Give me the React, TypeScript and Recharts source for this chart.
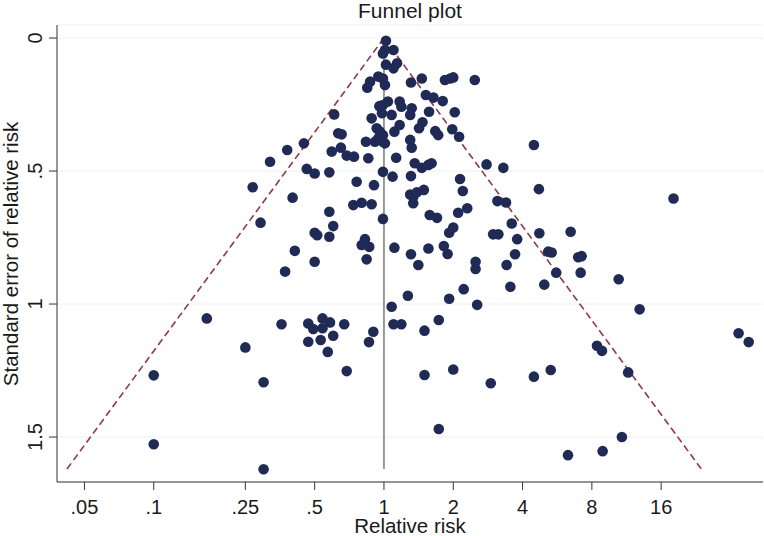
import { ScatterChart, Scatter, XAxis, YAxis, CartesianGrid, ReferenceLine } from 'recharts';

// [relative risk, standard error]
const studiesTop: [number, number][] = [
  [1.02, 0.01], [1.10, 0.045], [1.01, 0.045], [0.99, 0.058], [1.14, 0.095], [1.10, 0.114],
  [1.02, 0.10], [0.99, 0.152], [1.01, 0.177], [1.31, 0.167], [1.46, 0.152], [1.84, 0.158],
  [1.94, 0.152], [2.00, 0.148], [2.48, 0.158], [0.945, 0.145], [0.87, 0.164], [0.846, 0.187],
  [1.52, 0.214], [1.64, 0.224], [1.80, 0.237], [2.03, 0.279], [1.04, 0.239], [1.17, 0.239],
  [1.32, 0.264], [1.08, 0.289], [1.19, 0.258], [1.30, 0.289], [1.57, 0.277], [1.17, 0.327],
  [1.11, 0.352], [1.47, 0.317], [1.42, 0.339], [1.67, 0.35], [1.72, 0.365], [1.98, 0.343],
  [2.12, 0.371], [0.99, 0.365], [1.01, 0.396], [1.30, 0.383], [1.32, 0.412], [1.13, 0.45],
  [4.48, 0.402], [1.36, 0.471], [1.46, 0.488], [1.56, 0.477], [1.61, 0.471], [2.79, 0.475],
  [3.30, 0.488], [0.99, 0.252], [0.98, 0.283], [0.884, 0.302], [0.93, 0.339], [0.96, 0.352],
  [0.945, 0.377], [0.99, 0.39], [0.914, 0.39], [0.835, 0.39], [0.855, 0.452], [0.955, 0.256],
  [0.608, 0.287], [0.633, 0.358], [0.655, 0.362], [0.593, 0.427], [0.65, 0.412], [0.689, 0.442],
  [0.741, 0.446], [0.449, 0.396], [0.38, 0.421], [0.32, 0.465], [0.462, 0.492], [0.50, 0.509],
  [0.579, 0.505],
];

const studiesMiddle: [number, number][] = [
  [0.99, 0.503], [1.09, 0.521], [1.31, 0.519], [2.14, 0.53], [2.20, 0.575], [4.71, 0.568],
  [1.30, 0.588], [1.34, 0.597], [1.49, 0.571], [1.39, 0.58], [1.34, 0.621], [1.58, 0.665],
  [1.70, 0.676], [2.10, 0.657], [2.30, 0.64], [2.00, 0.712], [1.92, 0.732], [3.11, 0.613],
  [3.39, 0.618], [3.59, 0.697], [2.98, 0.738], [3.14, 0.738], [3.79, 0.756], [4.73, 0.734],
  [5.17, 0.803], [3.71, 0.813], [3.41, 0.853], [2.50, 0.841], [2.50, 0.868], [0.99, 0.68],
  [1.11, 0.788], [1.31, 0.813], [1.41, 0.853], [1.56, 0.791], [1.82, 0.782], [1.89, 0.812],
  [18.1, 0.603], [6.47, 0.728], [5.35, 0.806], [6.98, 0.824], [7.22, 0.82], [0.269, 0.561],
  [0.401, 0.60], [0.291, 0.694], [0.761, 0.54], [0.905, 0.553], [0.736, 0.628], [0.80, 0.619],
  [0.884, 0.625], [0.579, 0.653], [0.602, 0.707], [0.50, 0.732], [0.513, 0.741], [0.579, 0.747],
  [0.827, 0.756], [0.80, 0.778], [0.863, 0.785], [0.841, 0.832], [0.41, 0.80], [0.50, 0.841],
  [0.372, 0.878],
];

const studiesBottom: [number, number][] = [
  [1.08, 1.01], [1.27, 0.969], [1.92, 0.98], [2.22, 0.944], [2.54, 1.003], [3.54, 0.935],
  [4.97, 0.927], [5.60, 0.882], [7.15, 0.882], [10.46, 0.907], [12.9, 1.02], [8.42, 1.157],
  [8.85, 1.176], [11.5, 1.257], [34.7, 1.11], [38.4, 1.143], [10.8, 1.50], [8.91, 1.553],
  [6.30, 1.568], [1.10, 1.076], [1.19, 1.076], [1.50, 1.10], [1.73, 1.06], [1.50, 1.267],
  [2.00, 1.246], [2.91, 1.298], [4.48, 1.273], [5.30, 1.248], [1.73, 1.47], [0.17, 1.054],
  [0.25, 1.163], [0.359, 1.076], [0.10, 1.268], [0.30, 1.294], [0.10, 1.527], [0.30, 1.621],
  [0.469, 1.073], [0.541, 1.054], [0.583, 1.069], [0.493, 1.094], [0.541, 1.091], [0.672, 1.076],
  [0.469, 1.142], [0.531, 1.135], [0.602, 1.119], [0.570, 1.18], [0.689, 1.252], [0.899, 1.104],
  [0.861, 1.143],
];

// pseudo 95% limits: apex and the two bottom ends
const funnelApex = { rr: 1, se: 0 };
const funnelLeftEnd = { rr: 0.042, se: 1.62 };
const funnelRightEnd = { rr: 23.9, se: 1.62 };

const xTicks = [0.05, 0.1, 0.25, 0.5, 1, 2, 4, 8, 16];
const yTicks = [0, 0.5, 1, 1.5];

const font = '"Liberation Sans", Arial, sans-serif';
const navy = '#1f2a56';
const maroon = '#963640';

const studies = [...studiesTop, ...studiesMiddle, ...studiesBottom].map(([rr, se]) => ({ rr, se }));

// Stata style: drop the leading zero (".5", ".05")
const fmt = (v: number) => (v > 0 && v < 1 ? String(v).replace(/^0/, '') : String(v));

const XTick = ({ x, y, payload }: any) => (
  <text x={x} y={y + 22} textAnchor="middle" fontSize={20} fontFamily={font} fill="#1a1a1a">
    {fmt(payload.value)}
  </text>
);

const YTick = ({ x, y, payload }: any) => (
  <text
    x={x - 5}
    y={y}
    transform={`rotate(-90, ${x - 5}, ${y})`}
    textAnchor="middle"
    fontSize={20}
    fontFamily={font}
    fill="#1a1a1a"
  >
    {fmt(payload.value)}
  </text>
);

const Dot = ({ cx, cy }: any) => <circle cx={cx} cy={cy} r={5.3} fill={navy} />;

export default function App() {
  return (
    <div style={{ position: 'absolute', left: 0, top: 0, width: 764, height: 536, background: '#fff' }}>
      <ScatterChart width={764} height={536} margin={{ top: 25, right: 1, bottom: 0, left: 0 }}>
        <CartesianGrid vertical={false} stroke="#edf1f4" strokeWidth={1} />
        <XAxis
          dataKey="rr"
          type="number"
          scale="log"
          domain={[0.038, 44.3]}
          allowDataOverflow
          ticks={xTicks}
          interval={0}
          height={54}
          tickSize={8}
          tick={<XTick />}
          axisLine={{ stroke: '#333', strokeWidth: 1 }}
          tickLine={{ stroke: '#333' }}
        />
        <YAxis
          dataKey="se"
          type="number"
          domain={[-0.049, 1.669]}
          allowDataOverflow
          reversed
          ticks={yTicks}
          interval={0}
          width={57}
          tickSize={8}
          tick={<YTick />}
          axisLine={{ stroke: '#333', strokeWidth: 1 }}
          tickLine={{ stroke: '#333' }}
        />
        <Scatter data={studies} shape={<Dot />} isAnimationActive={false} />
        <ReferenceLine
          segment={[{ x: funnelApex.rr, y: funnelApex.se }, { x: funnelLeftEnd.rr, y: funnelLeftEnd.se }]}
          stroke={maroon}
          strokeWidth={1.6}
          strokeDasharray="7 4"
        />
        <ReferenceLine
          segment={[{ x: funnelApex.rr, y: funnelApex.se }, { x: funnelRightEnd.rr, y: funnelRightEnd.se }]}
          stroke={maroon}
          strokeWidth={1.6}
          strokeDasharray="7 4"
        />
        <ReferenceLine
          segment={[{ x: funnelApex.rr, y: funnelApex.se }, { x: funnelApex.rr, y: funnelLeftEnd.se }]}
          stroke="#7a7a7a"
          strokeWidth={1.5}
        />
      </ScatterChart>
      <svg width={764} height={536} style={{ position: 'absolute', left: 0, top: 0, pointerEvents: 'none' }}>
        <text x={410} y={18} textAnchor="middle" fontSize={21} fontFamily={font} fill="#1a1a1a">
          Funnel plot
        </text>
        <text x={410} y={532.5} textAnchor="middle" fontSize={20.5} fontFamily={font} fill="#1a1a1a">
          Relative risk
        </text>
        <text
          x={18}
          y={254}
          transform="rotate(-90, 18, 254)"
          textAnchor="middle"
          fontSize={20.5}
          fontFamily={font}
          fill="#1a1a1a"
        >
          Standard error of relative risk
        </text>
      </svg>
    </div>
  );
}
